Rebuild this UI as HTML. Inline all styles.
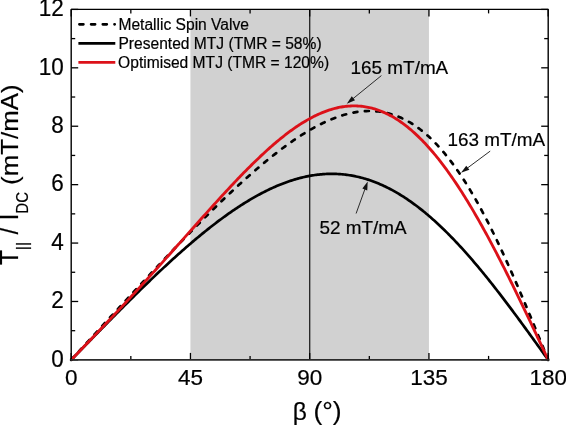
<!DOCTYPE html>
<html><head><meta charset="utf-8"><style>
html,body{margin:0;padding:0;background:#fff;}
body{width:566px;height:426px;overflow:hidden;}
svg{display:block;will-change:transform;}
text{stroke:#000;stroke-width:0.2px;font-family:"Liberation Sans",sans-serif;}
</style></head><body>
<svg width="566" height="426" viewBox="0 0 566 426">
<rect x="190.45" y="9.4" width="238.50" height="350.5" fill="#d1d1d1"/>
<line x1="309.70" y1="9.4" x2="309.70" y2="359.9" stroke="#222" stroke-width="1.3"/>
<g fill="none" stroke-width="2.7">
<path d="M71.20,359.90 L72.53,358.45 L73.85,357.00 L75.17,355.55 L76.50,354.11 L77.83,352.66 L79.15,351.21 L80.48,349.76 L81.80,348.31 L83.12,346.87 L84.45,345.42 L85.78,343.97 L87.10,342.52 L88.43,341.08 L89.75,339.63 L91.08,338.18 L92.40,336.74 L93.73,335.29 L95.05,333.84 L96.38,332.40 L97.70,330.95 L99.03,329.51 L100.35,328.07 L101.68,326.62 L103.00,325.18 L104.33,323.74 L105.65,322.29 L106.98,320.85 L108.30,319.41 L109.62,317.97 L110.95,316.53 L112.28,315.09 L113.60,313.65 L114.93,312.21 L116.25,310.77 L117.58,309.34 L118.90,307.90 L120.23,306.46 L121.55,305.03 L122.88,303.59 L124.20,302.16 L125.53,300.73 L126.85,299.30 L128.18,297.87 L129.50,296.44 L130.83,295.01 L132.15,293.58 L133.48,292.15 L134.80,290.73 L136.12,289.30 L137.45,287.88 L138.78,286.45 L140.10,285.03 L141.43,283.61 L142.75,282.19 L144.08,280.77 L145.40,279.36 L146.73,277.94 L148.05,276.52 L149.38,275.11 L150.70,273.70 L152.03,272.29 L153.35,270.88 L154.68,269.47 L156.00,268.06 L157.33,266.66 L158.65,265.26 L159.98,263.85 L161.30,262.45 L162.63,261.06 L163.95,259.66 L165.28,258.26 L166.60,256.87 L167.93,255.48 L169.25,254.09 L170.58,252.70 L171.90,251.32 L173.23,249.93 L174.55,248.55 L175.88,247.17 L177.20,245.79 L178.53,244.42 L179.85,243.04 L181.18,241.67 L182.50,240.30 L183.83,238.94 L185.15,237.57 L186.48,236.21 L187.80,234.85 L189.13,233.49 L190.45,232.14 L191.78,230.79 L193.10,229.44 L194.43,228.09 L195.75,226.75 L197.08,225.41 L198.40,224.07 L199.73,222.73 L201.05,221.40 L202.38,220.07 L203.70,218.75 L205.03,217.42 L206.35,216.10 L207.68,214.79 L209.00,213.47 L210.33,212.17 L211.65,210.86 L212.98,209.56 L214.30,208.26 L215.62,206.96 L216.95,205.67 L218.28,204.38 L219.60,203.10 L220.93,201.82 L222.25,200.54 L223.58,199.27 L224.90,198.00 L226.23,196.74 L227.55,195.48 L228.88,194.23 L230.20,192.98 L231.53,191.73 L232.85,190.49 L234.18,189.26 L235.50,188.02 L236.83,186.80 L238.15,185.58 L239.48,184.36 L240.80,183.15 L242.12,181.94 L243.45,180.74 L244.78,179.55 L246.10,178.36 L247.43,177.18 L248.75,176.00 L250.08,174.83 L251.40,173.66 L252.73,172.50 L254.05,171.35 L255.38,170.20 L256.70,169.06 L258.03,167.93 L259.35,166.80 L260.68,165.68 L262.00,164.56 L263.33,163.45 L264.65,162.35 L265.98,161.26 L267.30,160.18 L268.63,159.10 L269.95,158.03 L271.28,156.96 L272.60,155.91 L273.93,154.86 L275.25,153.82 L276.58,152.79 L277.90,151.77 L279.23,150.76 L280.55,149.75 L281.88,148.75 L283.20,147.77 L284.53,146.79 L285.85,145.82 L287.18,144.86 L288.50,143.91 L289.83,142.97 L291.15,142.03 L292.48,141.11 L293.80,140.20 L295.13,139.30 L296.45,138.41 L297.78,137.53 L299.10,136.66 L300.43,135.80 L301.75,134.96 L303.08,134.12 L304.40,133.30 L305.73,132.48 L307.05,131.68 L308.38,130.89 L309.70,130.12 L311.03,129.35 L312.35,128.60 L313.68,127.86 L315.00,127.14 L316.33,126.42 L317.65,125.72 L318.98,125.04 L320.30,124.36 L321.63,123.70 L322.95,123.06 L324.28,122.43 L325.60,121.81 L326.93,121.21 L328.25,120.62 L329.58,120.05 L330.90,119.49 L332.23,118.95 L333.55,118.43 L334.88,117.92 L336.20,117.43 L337.53,116.95 L338.85,116.49 L340.18,116.05 L341.50,115.62 L342.83,115.21 L344.15,114.82 L345.48,114.44 L346.80,114.09 L348.13,113.75 L349.45,113.43 L350.78,113.13 L352.10,112.85 L353.43,112.58 L354.75,112.34 L356.08,112.12 L357.40,111.91 L358.73,111.73 L360.05,111.56 L361.38,111.42 L362.70,111.30 L364.03,111.20 L365.35,111.11 L366.68,111.06 L368.00,111.02 L369.33,111.00 L370.65,111.01 L371.98,111.04 L373.30,111.09 L374.63,111.16 L375.95,111.26 L377.28,111.38 L378.60,111.53 L379.93,111.70 L381.25,111.89 L382.58,112.11 L383.90,112.35 L385.23,112.62 L386.55,112.91 L387.88,113.22 L389.20,113.57 L390.53,113.94 L391.85,114.33 L393.18,114.75 L394.50,115.20 L395.83,115.67 L397.15,116.17 L398.48,116.70 L399.80,117.25 L401.13,117.84 L402.45,118.45 L403.78,119.09 L405.10,119.75 L406.43,120.45 L407.75,121.17 L409.08,121.92 L410.40,122.71 L411.73,123.52 L413.05,124.36 L414.38,125.23 L415.70,126.13 L417.03,127.05 L418.35,128.01 L419.68,129.00 L421.00,130.02 L422.33,131.07 L423.65,132.15 L424.98,133.27 L426.30,134.41 L427.63,135.58 L428.95,136.79 L430.28,138.02 L431.60,139.29 L432.93,140.59 L434.25,141.92 L435.58,143.28 L436.90,144.68 L438.23,146.10 L439.55,147.56 L440.88,149.05 L442.20,150.57 L443.53,152.12 L444.85,153.71 L446.18,155.33 L447.50,156.98 L448.83,158.66 L450.15,160.37 L451.48,162.12 L452.80,163.90 L454.13,165.70 L455.45,167.55 L456.78,169.42 L458.10,171.32 L459.43,173.26 L460.75,175.23 L462.08,177.23 L463.40,179.26 L464.73,181.32 L466.05,183.41 L467.38,185.54 L468.70,187.69 L470.03,189.88 L471.35,192.09 L472.68,194.34 L474.00,196.62 L475.33,198.92 L476.65,201.26 L477.98,203.62 L479.30,206.01 L480.63,208.44 L481.95,210.89 L483.28,213.37 L484.60,215.87 L485.93,218.41 L487.25,220.97 L488.58,223.55 L489.90,226.17 L491.23,228.81 L492.55,231.48 L493.88,234.17 L495.20,236.88 L496.53,239.62 L497.85,242.39 L499.18,245.18 L500.50,247.99 L501.83,250.82 L503.15,253.68 L504.48,256.56 L505.80,259.46 L507.13,262.38 L508.45,265.32 L509.78,268.28 L511.10,271.25 L512.43,274.25 L513.75,277.27 L515.08,280.30 L516.40,283.35 L517.73,286.41 L519.05,289.49 L520.38,292.59 L521.70,295.70 L523.03,298.82 L524.35,301.96 L525.68,305.11 L527.00,308.27 L528.33,311.44 L529.65,314.63 L530.98,317.82 L532.30,321.02 L533.63,324.23 L534.95,327.45 L536.28,330.67 L537.60,333.91 L538.93,337.14 L540.25,340.38 L541.58,343.63 L542.90,346.88 L544.23,350.13 L545.55,353.39 L546.88,356.64 L548.20,359.90" stroke="#000" stroke-dasharray="4 7.5" stroke-linecap="round"/>
<path d="M71.20,359.90 L72.53,358.54 L73.85,357.17 L75.17,355.81 L76.50,354.45 L77.83,353.08 L79.15,351.72 L80.48,350.36 L81.80,348.99 L83.12,347.63 L84.45,346.27 L85.78,344.91 L87.10,343.55 L88.43,342.19 L89.75,340.83 L91.08,339.47 L92.40,338.11 L93.73,336.76 L95.05,335.40 L96.38,334.04 L97.70,332.69 L99.03,331.34 L100.35,329.98 L101.68,328.63 L103.00,327.28 L104.33,325.93 L105.65,324.58 L106.98,323.24 L108.30,321.89 L109.62,320.55 L110.95,319.21 L112.28,317.87 L113.60,316.53 L114.93,315.19 L116.25,313.85 L117.58,312.52 L118.90,311.19 L120.23,309.86 L121.55,308.53 L122.88,307.20 L124.20,305.88 L125.53,304.55 L126.85,303.23 L128.18,301.92 L129.50,300.60 L130.83,299.29 L132.15,297.97 L133.48,296.67 L134.80,295.36 L136.12,294.06 L137.45,292.75 L138.78,291.46 L140.10,290.16 L141.43,288.87 L142.75,287.58 L144.08,286.29 L145.40,285.01 L146.73,283.73 L148.05,282.45 L149.38,281.17 L150.70,279.90 L152.03,278.63 L153.35,277.37 L154.68,276.11 L156.00,274.85 L157.33,273.60 L158.65,272.35 L159.98,271.10 L161.30,269.86 L162.63,268.62 L163.95,267.38 L165.28,266.15 L166.60,264.93 L167.93,263.70 L169.25,262.49 L170.58,261.27 L171.90,260.06 L173.23,258.86 L174.55,257.66 L175.88,256.46 L177.20,255.27 L178.53,254.09 L179.85,252.91 L181.18,251.73 L182.50,250.56 L183.83,249.40 L185.15,248.24 L186.48,247.08 L187.80,245.93 L189.13,244.79 L190.45,243.65 L191.78,242.52 L193.10,241.39 L194.43,240.27 L195.75,239.15 L197.08,238.04 L198.40,236.94 L199.73,235.84 L201.05,234.75 L202.38,233.67 L203.70,232.59 L205.03,231.52 L206.35,230.46 L207.68,229.40 L209.00,228.35 L210.33,227.31 L211.65,226.27 L212.98,225.24 L214.30,224.22 L215.62,223.20 L216.95,222.19 L218.28,221.19 L219.60,220.20 L220.93,219.22 L222.25,218.24 L223.58,217.27 L224.90,216.31 L226.23,215.36 L227.55,214.41 L228.88,213.48 L230.20,212.55 L231.53,211.63 L232.85,210.72 L234.18,209.82 L235.50,208.92 L236.83,208.04 L238.15,207.16 L239.48,206.29 L240.80,205.44 L242.12,204.59 L243.45,203.75 L244.78,202.92 L246.10,202.10 L247.43,201.29 L248.75,200.49 L250.08,199.70 L251.40,198.92 L252.73,198.15 L254.05,197.39 L255.38,196.64 L256.70,195.90 L258.03,195.17 L259.35,194.45 L260.68,193.74 L262.00,193.04 L263.33,192.36 L264.65,191.68 L265.98,191.02 L267.30,190.36 L268.63,189.72 L269.95,189.09 L271.28,188.47 L272.60,187.86 L273.93,187.27 L275.25,186.68 L276.58,186.11 L277.90,185.55 L279.23,185.00 L280.55,184.46 L281.88,183.94 L283.20,183.43 L284.53,182.93 L285.85,182.44 L287.18,181.96 L288.50,181.50 L289.83,181.05 L291.15,180.61 L292.48,180.19 L293.80,179.78 L295.13,179.38 L296.45,179.00 L297.78,178.62 L299.10,178.27 L300.43,177.92 L301.75,177.59 L303.08,177.27 L304.40,176.97 L305.73,176.68 L307.05,176.40 L308.38,176.14 L309.70,175.89 L311.03,175.65 L312.35,175.43 L313.68,175.22 L315.00,175.03 L316.33,174.85 L317.65,174.69 L318.98,174.54 L320.30,174.41 L321.63,174.29 L322.95,174.18 L324.28,174.09 L325.60,174.01 L326.93,173.95 L328.25,173.90 L329.58,173.87 L330.90,173.86 L332.23,173.85 L333.55,173.87 L334.88,173.90 L336.20,173.94 L337.53,174.00 L338.85,174.07 L340.18,174.16 L341.50,174.27 L342.83,174.39 L344.15,174.53 L345.48,174.68 L346.80,174.84 L348.13,175.03 L349.45,175.22 L350.78,175.44 L352.10,175.67 L353.43,175.91 L354.75,176.17 L356.08,176.45 L357.40,176.74 L358.73,177.05 L360.05,177.38 L361.38,177.72 L362.70,178.07 L364.03,178.44 L365.35,178.83 L366.68,179.24 L368.00,179.65 L369.33,180.09 L370.65,180.54 L371.98,181.01 L373.30,181.49 L374.63,181.99 L375.95,182.51 L377.28,183.04 L378.60,183.58 L379.93,184.15 L381.25,184.73 L382.58,185.32 L383.90,185.93 L385.23,186.56 L386.55,187.20 L387.88,187.86 L389.20,188.53 L390.53,189.22 L391.85,189.93 L393.18,190.65 L394.50,191.39 L395.83,192.14 L397.15,192.91 L398.48,193.69 L399.80,194.49 L401.13,195.31 L402.45,196.14 L403.78,196.98 L405.10,197.84 L406.43,198.72 L407.75,199.61 L409.08,200.52 L410.40,201.44 L411.73,202.38 L413.05,203.33 L414.38,204.30 L415.70,205.28 L417.03,206.28 L418.35,207.29 L419.68,208.32 L421.00,209.36 L422.33,210.42 L423.65,211.49 L424.98,212.58 L426.30,213.68 L427.63,214.79 L428.95,215.92 L430.28,217.06 L431.60,218.22 L432.93,219.39 L434.25,220.57 L435.58,221.77 L436.90,222.98 L438.23,224.21 L439.55,225.45 L440.88,226.70 L442.20,227.96 L443.53,229.24 L444.85,230.53 L446.18,231.84 L447.50,233.16 L448.83,234.49 L450.15,235.83 L451.48,237.19 L452.80,238.55 L454.13,239.93 L455.45,241.33 L456.78,242.73 L458.10,244.15 L459.43,245.57 L460.75,247.01 L462.08,248.46 L463.40,249.93 L464.73,251.40 L466.05,252.88 L467.38,254.38 L468.70,255.89 L470.03,257.40 L471.35,258.93 L472.68,260.47 L474.00,262.02 L475.33,263.57 L476.65,265.14 L477.98,266.72 L479.30,268.31 L480.63,269.91 L481.95,271.51 L483.28,273.13 L484.60,274.75 L485.93,276.38 L487.25,278.03 L488.58,279.68 L489.90,281.34 L491.23,283.00 L492.55,284.68 L493.88,286.36 L495.20,288.05 L496.53,289.75 L497.85,291.46 L499.18,293.17 L500.50,294.89 L501.83,296.61 L503.15,298.35 L504.48,300.09 L505.80,301.83 L507.13,303.58 L508.45,305.34 L509.78,307.10 L511.10,308.87 L512.43,310.65 L513.75,312.43 L515.08,314.21 L516.40,316.00 L517.73,317.80 L519.05,319.59 L520.38,321.40 L521.70,323.20 L523.03,325.02 L524.35,326.83 L525.68,328.65 L527.00,330.47 L528.33,332.29 L529.65,334.12 L530.98,335.95 L532.30,337.78 L533.63,339.62 L534.95,341.45 L536.28,343.29 L537.60,345.13 L538.93,346.98 L540.25,348.82 L541.58,350.67 L542.90,352.51 L544.23,354.36 L545.55,356.20 L546.88,358.05 L548.20,359.90" stroke="#000"/>
<path d="M71.20,359.90 L72.53,358.52 L73.85,357.14 L75.17,355.76 L76.50,354.38 L77.83,353.00 L79.15,351.62 L80.48,350.24 L81.80,348.86 L83.12,347.48 L84.45,346.10 L85.78,344.72 L87.10,343.33 L88.43,341.95 L89.75,340.57 L91.08,339.18 L92.40,337.79 L93.73,336.41 L95.05,335.02 L96.38,333.63 L97.70,332.24 L99.03,330.85 L100.35,329.46 L101.68,328.06 L103.00,326.67 L104.33,325.27 L105.65,323.87 L106.98,322.47 L108.30,321.07 L109.62,319.67 L110.95,318.27 L112.28,316.86 L113.60,315.45 L114.93,314.04 L116.25,312.63 L117.58,311.22 L118.90,309.81 L120.23,308.39 L121.55,306.98 L122.88,305.56 L124.20,304.14 L125.53,302.71 L126.85,301.29 L128.18,299.86 L129.50,298.43 L130.83,297.00 L132.15,295.57 L133.48,294.13 L134.80,292.70 L136.12,291.26 L137.45,289.82 L138.78,288.38 L140.10,286.93 L141.43,285.49 L142.75,284.04 L144.08,282.59 L145.40,281.14 L146.73,279.68 L148.05,278.23 L149.38,276.77 L150.70,275.31 L152.03,273.85 L153.35,272.39 L154.68,270.92 L156.00,269.46 L157.33,267.99 L158.65,266.52 L159.98,265.05 L161.30,263.58 L162.63,262.10 L163.95,260.63 L165.28,259.15 L166.60,257.67 L167.93,256.19 L169.25,254.71 L170.58,253.23 L171.90,251.75 L173.23,250.26 L174.55,248.78 L175.88,247.29 L177.20,245.81 L178.53,244.32 L179.85,242.83 L181.18,241.34 L182.50,239.85 L183.83,238.37 L185.15,236.88 L186.48,235.39 L187.80,233.90 L189.13,232.41 L190.45,230.92 L191.78,229.43 L193.10,227.94 L194.43,226.46 L195.75,224.97 L197.08,223.48 L198.40,222.00 L199.73,220.51 L201.05,219.03 L202.38,217.55 L203.70,216.07 L205.03,214.59 L206.35,213.11 L207.68,211.64 L209.00,210.17 L210.33,208.69 L211.65,207.23 L212.98,205.76 L214.30,204.30 L215.62,202.84 L216.95,201.38 L218.28,199.92 L219.60,198.47 L220.93,197.03 L222.25,195.58 L223.58,194.14 L224.90,192.70 L226.23,191.27 L227.55,189.85 L228.88,188.42 L230.20,187.00 L231.53,185.59 L232.85,184.18 L234.18,182.78 L235.50,181.38 L236.83,179.99 L238.15,178.60 L239.48,177.22 L240.80,175.85 L242.12,174.48 L243.45,173.12 L244.78,171.77 L246.10,170.43 L247.43,169.09 L248.75,167.76 L250.08,166.43 L251.40,165.12 L252.73,163.81 L254.05,162.51 L255.38,161.22 L256.70,159.94 L258.03,158.67 L259.35,157.41 L260.68,156.15 L262.00,154.91 L263.33,153.68 L264.65,152.45 L265.98,151.24 L267.30,150.04 L268.63,148.85 L269.95,147.67 L271.28,146.50 L272.60,145.34 L273.93,144.20 L275.25,143.07 L276.58,141.95 L277.90,140.84 L279.23,139.74 L280.55,138.66 L281.88,137.59 L283.20,136.54 L284.53,135.50 L285.85,134.47 L287.18,133.46 L288.50,132.46 L289.83,131.47 L291.15,130.51 L292.48,129.55 L293.80,128.61 L295.13,127.69 L296.45,126.78 L297.78,125.89 L299.10,125.02 L300.43,124.16 L301.75,123.32 L303.08,122.50 L304.40,121.69 L305.73,120.90 L307.05,120.13 L308.38,119.37 L309.70,118.64 L311.03,117.92 L312.35,117.22 L313.68,116.54 L315.00,115.88 L316.33,115.24 L317.65,114.62 L318.98,114.02 L320.30,113.43 L321.63,112.87 L322.95,112.33 L324.28,111.81 L325.60,111.31 L326.93,110.83 L328.25,110.37 L329.58,109.93 L330.90,109.52 L332.23,109.12 L333.55,108.75 L334.88,108.40 L336.20,108.07 L337.53,107.76 L338.85,107.48 L340.18,107.22 L341.50,106.98 L342.83,106.77 L344.15,106.58 L345.48,106.41 L346.80,106.27 L348.13,106.15 L349.45,106.05 L350.78,105.98 L352.10,105.93 L353.43,105.91 L354.75,105.91 L356.08,105.93 L357.40,105.99 L358.73,106.06 L360.05,106.16 L361.38,106.29 L362.70,106.44 L364.03,106.61 L365.35,106.82 L366.68,107.04 L368.00,107.30 L369.33,107.58 L370.65,107.88 L371.98,108.21 L373.30,108.57 L374.63,108.95 L375.95,109.36 L377.28,109.80 L378.60,110.26 L379.93,110.75 L381.25,111.27 L382.58,111.81 L383.90,112.38 L385.23,112.97 L386.55,113.59 L387.88,114.24 L389.20,114.92 L390.53,115.62 L391.85,116.35 L393.18,117.11 L394.50,117.89 L395.83,118.70 L397.15,119.54 L398.48,120.41 L399.80,121.30 L401.13,122.22 L402.45,123.16 L403.78,124.14 L405.10,125.14 L406.43,126.16 L407.75,127.22 L409.08,128.30 L410.40,129.40 L411.73,130.54 L413.05,131.70 L414.38,132.88 L415.70,134.10 L417.03,135.34 L418.35,136.61 L419.68,137.90 L421.00,139.22 L422.33,140.56 L423.65,141.94 L424.98,143.34 L426.30,144.76 L427.63,146.21 L428.95,147.69 L430.28,149.19 L431.60,150.71 L432.93,152.27 L434.25,153.84 L435.58,155.45 L436.90,157.08 L438.23,158.73 L439.55,160.41 L440.88,162.11 L442.20,163.84 L443.53,165.59 L444.85,167.36 L446.18,169.16 L447.50,170.98 L448.83,172.83 L450.15,174.70 L451.48,176.59 L452.80,178.51 L454.13,180.45 L455.45,182.41 L456.78,184.40 L458.10,186.40 L459.43,188.43 L460.75,190.48 L462.08,192.55 L463.40,194.65 L464.73,196.76 L466.05,198.90 L467.38,201.05 L468.70,203.23 L470.03,205.42 L471.35,207.64 L472.68,209.88 L474.00,212.13 L475.33,214.41 L476.65,216.70 L477.98,219.01 L479.30,221.34 L480.63,223.69 L481.95,226.06 L483.28,228.44 L484.60,230.84 L485.93,233.26 L487.25,235.69 L488.58,238.15 L489.90,240.61 L491.23,243.09 L492.55,245.59 L493.88,248.11 L495.20,250.63 L496.53,253.17 L497.85,255.73 L499.18,258.30 L500.50,260.88 L501.83,263.48 L503.15,266.09 L504.48,268.71 L505.80,271.35 L507.13,273.99 L508.45,276.65 L509.78,279.32 L511.10,282.00 L512.43,284.68 L513.75,287.38 L515.08,290.09 L516.40,292.81 L517.73,295.54 L519.05,298.28 L520.38,301.02 L521.70,303.77 L523.03,306.53 L524.35,309.30 L525.68,312.07 L527.00,314.85 L528.33,317.64 L529.65,320.43 L530.98,323.23 L532.30,326.03 L533.63,328.84 L534.95,331.65 L536.28,334.46 L537.60,337.28 L538.93,340.10 L540.25,342.92 L541.58,345.75 L542.90,348.58 L544.23,351.41 L545.55,354.24 L546.88,357.07 L548.20,359.90" stroke="#dc1119" stroke-width="2.85"/>
</g>
<g stroke="#000" stroke-width="1.3"><line x1="71.20" y1="359.9" x2="71.20" y2="352.9"/><line x1="71.20" y1="9.4" x2="71.20" y2="16.4"/><line x1="130.83" y1="359.9" x2="130.83" y2="355.9"/><line x1="130.83" y1="9.4" x2="130.83" y2="13.4"/><line x1="190.45" y1="359.9" x2="190.45" y2="352.9"/><line x1="190.45" y1="9.4" x2="190.45" y2="16.4"/><line x1="250.08" y1="359.9" x2="250.08" y2="355.9"/><line x1="250.08" y1="9.4" x2="250.08" y2="13.4"/><line x1="309.70" y1="359.9" x2="309.70" y2="352.9"/><line x1="309.70" y1="9.4" x2="309.70" y2="16.4"/><line x1="369.33" y1="359.9" x2="369.33" y2="355.9"/><line x1="369.33" y1="9.4" x2="369.33" y2="13.4"/><line x1="428.95" y1="359.9" x2="428.95" y2="352.9"/><line x1="428.95" y1="9.4" x2="428.95" y2="16.4"/><line x1="488.58" y1="359.9" x2="488.58" y2="355.9"/><line x1="488.58" y1="9.4" x2="488.58" y2="13.4"/><line x1="548.20" y1="359.9" x2="548.20" y2="352.9"/><line x1="548.20" y1="9.4" x2="548.20" y2="16.4"/><line x1="71.2" y1="359.90" x2="78.2" y2="359.90"/><line x1="548.2" y1="359.90" x2="541.2" y2="359.90"/><line x1="71.2" y1="330.69" x2="75.2" y2="330.69"/><line x1="548.2" y1="330.69" x2="544.2" y2="330.69"/><line x1="71.2" y1="301.48" x2="78.2" y2="301.48"/><line x1="548.2" y1="301.48" x2="541.2" y2="301.48"/><line x1="71.2" y1="272.27" x2="75.2" y2="272.27"/><line x1="548.2" y1="272.27" x2="544.2" y2="272.27"/><line x1="71.2" y1="243.07" x2="78.2" y2="243.07"/><line x1="548.2" y1="243.07" x2="541.2" y2="243.07"/><line x1="71.2" y1="213.86" x2="75.2" y2="213.86"/><line x1="548.2" y1="213.86" x2="544.2" y2="213.86"/><line x1="71.2" y1="184.65" x2="78.2" y2="184.65"/><line x1="548.2" y1="184.65" x2="541.2" y2="184.65"/><line x1="71.2" y1="155.44" x2="75.2" y2="155.44"/><line x1="548.2" y1="155.44" x2="544.2" y2="155.44"/><line x1="71.2" y1="126.23" x2="78.2" y2="126.23"/><line x1="548.2" y1="126.23" x2="541.2" y2="126.23"/><line x1="71.2" y1="97.02" x2="75.2" y2="97.02"/><line x1="548.2" y1="97.02" x2="544.2" y2="97.02"/><line x1="71.2" y1="67.82" x2="78.2" y2="67.82"/><line x1="548.2" y1="67.82" x2="541.2" y2="67.82"/><line x1="71.2" y1="38.61" x2="75.2" y2="38.61"/><line x1="548.2" y1="38.61" x2="544.2" y2="38.61"/><line x1="71.2" y1="9.40" x2="78.2" y2="9.40"/><line x1="548.2" y1="9.40" x2="541.2" y2="9.40"/></g>
<path d="M71.2,359.9 L71.2,9.4 L548.2,9.4 L548.2,359.9" fill="none" stroke="#000" stroke-width="1.4" stroke-linejoin="round"/>
<line x1="70.5" y1="359.9" x2="548.9000000000001" y2="359.9" stroke="#2b2b2b" stroke-width="1.7"/>
<g font-size="22.5" fill="#000"><text transform="translate(63.70,366.70) scale(1,1.06)" text-anchor="end">0</text><text transform="translate(63.70,308.28) scale(1,1.06)" text-anchor="end">2</text><text transform="translate(63.70,249.87) scale(1,1.06)" text-anchor="end">4</text><text transform="translate(63.70,191.45) scale(1,1.06)" text-anchor="end">6</text><text transform="translate(63.70,133.03) scale(1,1.06)" text-anchor="end">8</text><text transform="translate(63.70,74.62) scale(1,1.06)" text-anchor="end">10</text><text transform="translate(63.70,16.20) scale(1,1.06)" text-anchor="end">12</text><text x="71.20" y="385.00" text-anchor="middle">0</text><text x="190.45" y="385.00" text-anchor="middle">45</text><text x="309.70" y="385.00" text-anchor="middle">90</text><text x="428.95" y="385.00" text-anchor="middle">135</text><text x="548.20" y="385.00" text-anchor="middle">180</text></g>
<g stroke-width="2.7" fill="none">
<line x1="79.4" y1="24.3" x2="114.7" y2="24.3" stroke="#000" stroke-dasharray="4 7.7" stroke-linecap="round"/>
<line x1="78.4" y1="43.3" x2="115.3" y2="43.3" stroke="#000"/>
<line x1="78.4" y1="62.3" x2="115.3" y2="62.3" stroke="#dc1119"/>
</g>
<g font-size="15.6" fill="#000">
<text x="118.4" y="29.7">Metallic Spin Valve</text>
<text x="118.4" y="48.6">Presented MTJ (TMR = 58%)</text>
<text x="118.1" y="67.5">Optimised MTJ (TMR = 120%)</text>
</g>
<g font-size="18.9" fill="#000">
<text x="350.6" y="74.1">165 mT/mA</text>
<text x="447.5" y="146.3">163 mT/mA</text>
<text x="319.4" y="233.6">52 mT/mA</text>
</g>
<line x1="381.40" y1="75.60" x2="352.62" y2="98.97" stroke="#222" stroke-width="0.95"/><polygon points="346.80,103.70 351.76,96.32 355.04,100.36" fill="#111"/><line x1="490.20" y1="151.10" x2="467.02" y2="168.33" stroke="#222" stroke-width="0.95"/><polygon points="461.00,172.80 466.27,165.64 469.37,169.82" fill="#111"/><line x1="356.10" y1="213.50" x2="365.14" y2="188.55" stroke="#222" stroke-width="0.95"/><polygon points="367.70,181.50 367.25,190.38 362.36,188.61" fill="#111"/>
<g fill="#000">
<text x="292.7" y="420.0" font-size="24.5">β</text>
<text x="313.4" y="420.0" font-size="26.5">(°)</text>
<text transform="translate(18.20,265.05) rotate(-90) scale(1,1.04)" font-size="24.5">T</text><text transform="translate(28.00,250.15) rotate(-90) scale(1,1.04)" font-size="16">||</text><text transform="translate(18.20,234.40) rotate(-90) scale(1,1.04)" font-size="24.5">/</text><text transform="translate(18.20,220.40) rotate(-90) scale(1,1.04)" font-size="24.5">I</text><text transform="translate(28.00,213.66) rotate(-90) scale(1,1.04)" font-size="15">DC</text><text transform="translate(18.20,184.90) rotate(-90) scale(1,1.0)" font-size="24.5" textLength="100.5" lengthAdjust="spacingAndGlyphs">(mT/mA)</text>
</g>
</svg>
</body></html>
